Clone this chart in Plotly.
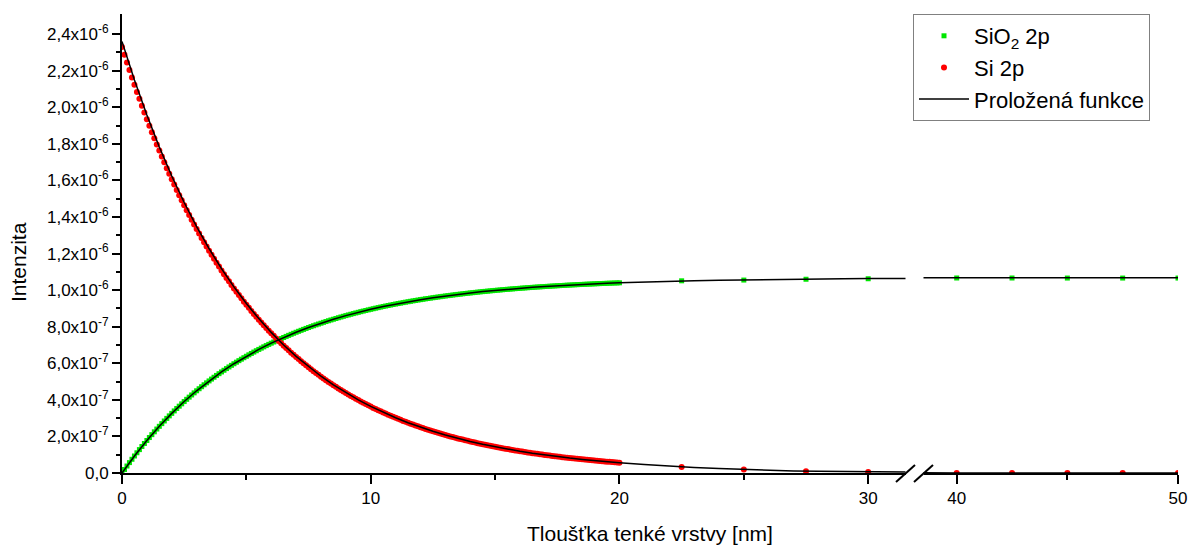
import plotly.graph_objects as go

# ---------------- data (intensity in units of 1e-7) ----------------
thickness_dense = [round(i * 0.1, 1) for i in range(201)]  # 0.0 ... 20.0 nm
thickness_tail = [22.5, 25, 27.5, 30, 40, 42.5, 45, 47.5, 50]

si_dense = [
    23.30, 22.87, 22.45, 22.04, 21.63, 21.23, 20.84, 20.46, 20.08, 19.71,
    19.35, 18.99, 18.64, 18.30, 17.96, 17.63, 17.31, 16.99, 16.67, 16.37,
    16.07, 15.77, 15.48, 15.19, 14.91, 14.64, 14.37, 14.11, 13.85, 13.59,
    13.34, 13.10, 12.85, 12.62, 12.39, 12.16, 11.93, 11.71, 11.50, 11.29,
    11.08, 10.87, 10.67, 10.48, 10.28, 10.09, 9.91, 9.73, 9.55, 9.37,
    9.20, 9.03, 8.86, 8.70, 8.54, 8.38, 8.23, 8.08, 7.93, 7.78,
    7.64, 7.50, 7.36, 7.22, 7.09, 6.96, 6.83, 6.71, 6.58, 6.46,
    6.34, 6.23, 6.11, 6.00, 5.89, 5.78, 5.67, 5.57, 5.47, 5.37,
    5.27, 5.17, 5.07, 4.98, 4.89, 4.80, 4.71, 4.62, 4.54, 4.46,
    4.37, 4.29, 4.21, 4.14, 4.06, 3.99, 3.91, 3.84, 3.77, 3.70,
    3.63, 3.56, 3.50, 3.43, 3.37, 3.31, 3.25, 3.19, 3.13, 3.07,
    3.02, 2.96, 2.91, 2.85, 2.80, 2.75, 2.70, 2.65, 2.60, 2.55,
    2.50, 2.46, 2.41, 2.37, 2.32, 2.28, 2.24, 2.20, 2.16, 2.12,
    2.08, 2.04, 2.00, 1.97, 1.93, 1.89, 1.86, 1.83, 1.79, 1.76,
    1.727, 1.695, 1.664, 1.633, 1.603, 1.574, 1.545, 1.516, 1.488, 1.461,
    1.434, 1.407, 1.382, 1.356, 1.331, 1.307, 1.283, 1.259, 1.236, 1.213,
    1.191, 1.169, 1.147, 1.126, 1.105, 1.085, 1.065, 1.046, 1.026, 1.007,
    0.989, 0.970, 0.953, 0.935, 0.918, 0.901, 0.884, 0.868, 0.852, 0.837,
    0.821, 0.806, 0.791, 0.777, 0.762, 0.748, 0.734, 0.721, 0.708, 0.695,
    0.682, 0.669, 0.657, 0.645, 0.633, 0.621, 0.610, 0.599, 0.588, 0.577,
    0.566,
]
si_tail = [0.33, 0.19, 0.10, 0.05, 0.0, 0.0, 0.0, 0.0, 0.0]

sio2_dense = [
    0.0, 0.193, 0.382, 0.568, 0.751, 0.930, 1.106, 1.279, 1.448, 1.615,
    1.779, 1.939, 2.097, 2.252, 2.404, 2.553, 2.700, 2.844, 2.986, 3.124,
    3.261, 3.395, 3.526, 3.655, 3.782, 3.907, 4.029, 4.149, 4.267, 4.383,
    4.496, 4.608, 4.718, 4.825, 4.931, 5.035, 5.137, 5.237, 5.335, 5.431,
    5.526, 5.619, 5.710, 5.800, 5.888, 5.975, 6.060, 6.143, 6.225, 6.305,
    6.384, 6.462, 6.538, 6.613, 6.686, 6.758, 6.829, 6.899, 6.967, 7.034,
    7.100, 7.164, 7.228, 7.290, 7.351, 7.411, 7.470, 7.528, 7.585, 7.641,
    7.696, 7.750, 7.803, 7.855, 7.906, 7.956, 8.005, 8.053, 8.101, 8.147,
    8.193, 8.238, 8.282, 8.325, 8.368, 8.409, 8.450, 8.491, 8.530, 8.569,
    8.607, 8.644, 8.681, 8.717, 8.753, 8.787, 8.822, 8.855, 8.888, 8.920,
    8.952, 8.983, 9.014, 9.044, 9.074, 9.103, 9.131, 9.159, 9.186, 9.213,
    9.240, 9.266, 9.291, 9.317, 9.341, 9.365, 9.389, 9.412, 9.435, 9.458,
    9.480, 9.501, 9.523, 9.544, 9.564, 9.584, 9.604, 9.623, 9.642, 9.661,
    9.680, 9.698, 9.715, 9.733, 9.750, 9.767, 9.783, 9.799, 9.815, 9.831,
    9.846, 9.861, 9.876, 9.891, 9.905, 9.919, 9.933, 9.946, 9.959, 9.972,
    9.985, 9.998, 10.010, 10.022, 10.034, 10.046, 10.057, 10.068, 10.079, 10.090,
    10.101, 10.111, 10.121, 10.132, 10.141, 10.151, 10.161, 10.170, 10.179, 10.188,
    10.197, 10.206, 10.214, 10.223, 10.231, 10.239, 10.247, 10.255, 10.263, 10.270,
    10.278, 10.285, 10.292, 10.299, 10.306, 10.313, 10.319, 10.326, 10.332, 10.338,
    10.345, 10.351, 10.357, 10.362, 10.368, 10.374, 10.379, 10.385, 10.390, 10.395,
    10.400,
]
sio2_tail = [10.51, 10.55, 10.59, 10.62, 10.66, 10.66, 10.66, 10.66, 10.66]

# fitted functions
fit_x = [0, 0.5, 1, 1.5, 2, 2.5, 3, 3.5, 4, 4.5, 5, 5.5, 6, 6.5, 7, 7.5, 8, 8.5,
         9, 9.5, 10, 10.5, 11, 11.5, 12, 12.5, 13, 13.5, 14, 14.5, 15, 15.5,
         16, 16.5, 17, 17.5, 18, 18.5, 19, 19.5, 20, 21, 22, 23, 24, 25, 26,
         27, 28, 29, 30, 31, 32, 38, 40, 45, 50]
fit_si = [23.6, 21.494, 19.577, 17.830, 16.239, 14.790, 13.471, 12.269, 11.174,
          10.177, 9.269, 8.442, 7.689, 7.003, 6.378, 5.809, 5.291, 4.819, 4.389,
          3.997, 3.641, 3.316, 3.020, 2.751, 2.505, 2.282, 2.078, 1.893, 1.724,
          1.570, 1.430, 1.302, 1.186, 1.080, 0.984, 0.896, 0.816, 0.743, 0.677,
          0.617, 0.562, 0.46, 0.37, 0.30, 0.24, 0.19, 0.15, 0.115, 0.09, 0.07,
          0.05, 0.04, 0.03, 0.008, 0.005, 0.002, 0.001]
fit_sio2 = [0.0, 0.930, 1.779, 2.553, 3.261, 3.907, 4.496, 5.035, 5.526, 5.975,
            6.384, 6.758, 7.100, 7.411, 7.696, 7.956, 8.193, 8.409, 8.607, 8.787,
            8.952, 9.103, 9.240, 9.365, 9.480, 9.584, 9.680, 9.767, 9.846, 9.919,
            9.985, 10.046, 10.101, 10.151, 10.197, 10.239, 10.278, 10.313, 10.345,
            10.374, 10.400, 10.447, 10.486, 10.518, 10.545, 10.568, 10.586, 10.602,
            10.615, 10.626, 10.635, 10.642, 10.649, 10.670, 10.673, 10.677, 10.679]

y_tickvals = [0, 2, 4, 6, 8, 10, 12, 14, 16, 18, 20, 22, 24]
y_ticktext = ["0,0", "2,0x10<sup>-7</sup>", "4,0x10<sup>-7</sup>", "6,0x10<sup>-7</sup>",
              "8,0x10<sup>-7</sup>", "1,0x10<sup>-6</sup>", "1,2x10<sup>-6</sup>",
              "1,4x10<sup>-6</sup>", "1,6x10<sup>-6</sup>", "1,8x10<sup>-6</sup>",
              "2,0x10<sup>-6</sup>", "2,2x10<sup>-6</sup>", "2,4x10<sup>-6</sup>"]
y_minor = [1, 3, 5, 7, 9, 11, 13, 15, 17, 19, 21, 23]

x1_major = [0, 10, 20, 30]
x1_minor = [5, 15, 25]
x2_major = [40, 50]
x2_minor = [45]

x_title = "Tloušťka tenké vrstvy [nm]"
y_title = "Intenzita"
name_sio2 = "SiO<sub>2</sub> 2p"
name_si = "Si 2p"
name_fit = "Proložená funkce"

# ---------------- figure ----------------
W, H = 1192, 546
ML, MR, MT, MB = 122, 14, 14, 73
PW, PH = W - ML - MR, H - MT - MB
FONT = "Liberation Sans, Arial, sans-serif"

x1_range = [0, 31.5]
x2_range = [38.5, 50]
d1_end = (905.5 - ML) / PW
d2_start = (923.5 - ML) / PW

x_si = thickness_dense + thickness_tail
y_si = si_dense + si_tail
y_sio2 = sio2_dense + sio2_tail

fig = go.Figure()
for xa, show in [("x", True), ("x2", False)]:
    fig.add_trace(go.Scatter(
        x=x_si, y=y_sio2, mode="markers", name=name_sio2, xaxis=xa, yaxis="y",
        marker=dict(symbol="square", size=5, color="#00e600", line=dict(width=0)),
        showlegend=show, legendrank=1))
    fig.add_trace(go.Scatter(
        x=x_si, y=y_si, mode="markers", name=name_si, xaxis=xa, yaxis="y",
        marker=dict(symbol="circle", size=6, color="#ff0000", line=dict(width=0)),
        showlegend=show, legendrank=2))
    fig.add_trace(go.Scatter(
        x=fit_x, y=fit_sio2, mode="lines", name=name_fit, xaxis=xa, yaxis="y",
        line=dict(color="black", width=1.5), showlegend=show, legendrank=3))
    fig.add_trace(go.Scatter(
        x=fit_x, y=fit_si, mode="lines", name=name_fit, xaxis=xa, yaxis="y",
        line=dict(color="black", width=1.5), showlegend=False))

axis_common = dict(showgrid=False, zeroline=False, showline=True, linecolor="black",
                   linewidth=2, ticks="outside", tickwidth=1.5, automargin=False,
                   tickcolor="black", tickfont=dict(family=FONT, size=17, color="black"))

fig.update_layout(
    width=W, height=H,
    margin=dict(l=ML, r=MR, t=MT, b=MB, pad=0, autoexpand=False),
    paper_bgcolor="white", plot_bgcolor="white",
    font=dict(family=FONT, color="black"),
    xaxis=dict(domain=[0, d1_end], range=x1_range, anchor="y", ticklen=9,
               tickmode="array", tickvals=x1_major, ticktext=[str(v) for v in x1_major],
               minor=dict(tickmode="array", tickvals=x1_minor, ticks="outside",
                          ticklen=5, tickwidth=1.5, tickcolor="black"),
               **axis_common),
    xaxis2=dict(domain=[d2_start, 1], range=x2_range, anchor="y", ticklen=9,
                tickmode="array", tickvals=x2_major, ticktext=[str(v) for v in x2_major],
                minor=dict(tickmode="array", tickvals=x2_minor, ticks="outside",
                           ticklen=5, tickwidth=1.5, tickcolor="black"),
                **axis_common),
    yaxis=dict(domain=[0, 1], range=[0, 25.1], anchor="x", ticklen=8,
               tickmode="array", tickvals=y_tickvals, ticktext=y_ticktext,
               minor=dict(tickmode="array", tickvals=y_minor, ticks="outside",
                          ticklen=4, tickwidth=1.5, tickcolor="black"),
               **axis_common),
    legend=dict(x=(1150 - ML) / PW, y=1.0, xanchor="right", yanchor="top",
                bgcolor="white", bordercolor="#808080", borderwidth=1,
                font=dict(family=FONT, size=22, color="black"),
                traceorder="normal", itemwidth=50, tracegroupgap=0),
    showlegend=True,
)

# axis titles
fig.add_annotation(text=x_title, xref="paper", yref="paper", x=0.5,
                   y=(473 - 533) / PH, xanchor="center", yanchor="middle",
                   showarrow=False, font=dict(family=FONT, size=21, color="black"))
fig.add_annotation(text=y_title, xref="paper", yref="paper", x=(18 - ML) / PW,
                   y=(473 - 262) / PH, xanchor="center", yanchor="middle", textangle=-90,
                   showarrow=False, font=dict(family=FONT, size=21, color="black"))

# axis break marks
for cx in (d1_end, d2_start):
    fig.add_shape(type="line", xref="paper", yref="paper",
                  x0=cx - 9.5 / PW, y0=-9 / PH, x1=cx + 9.5 / PW, y1=8 / PH,
                  line=dict(color="black", width=2))

fig.write_html("out.html")
